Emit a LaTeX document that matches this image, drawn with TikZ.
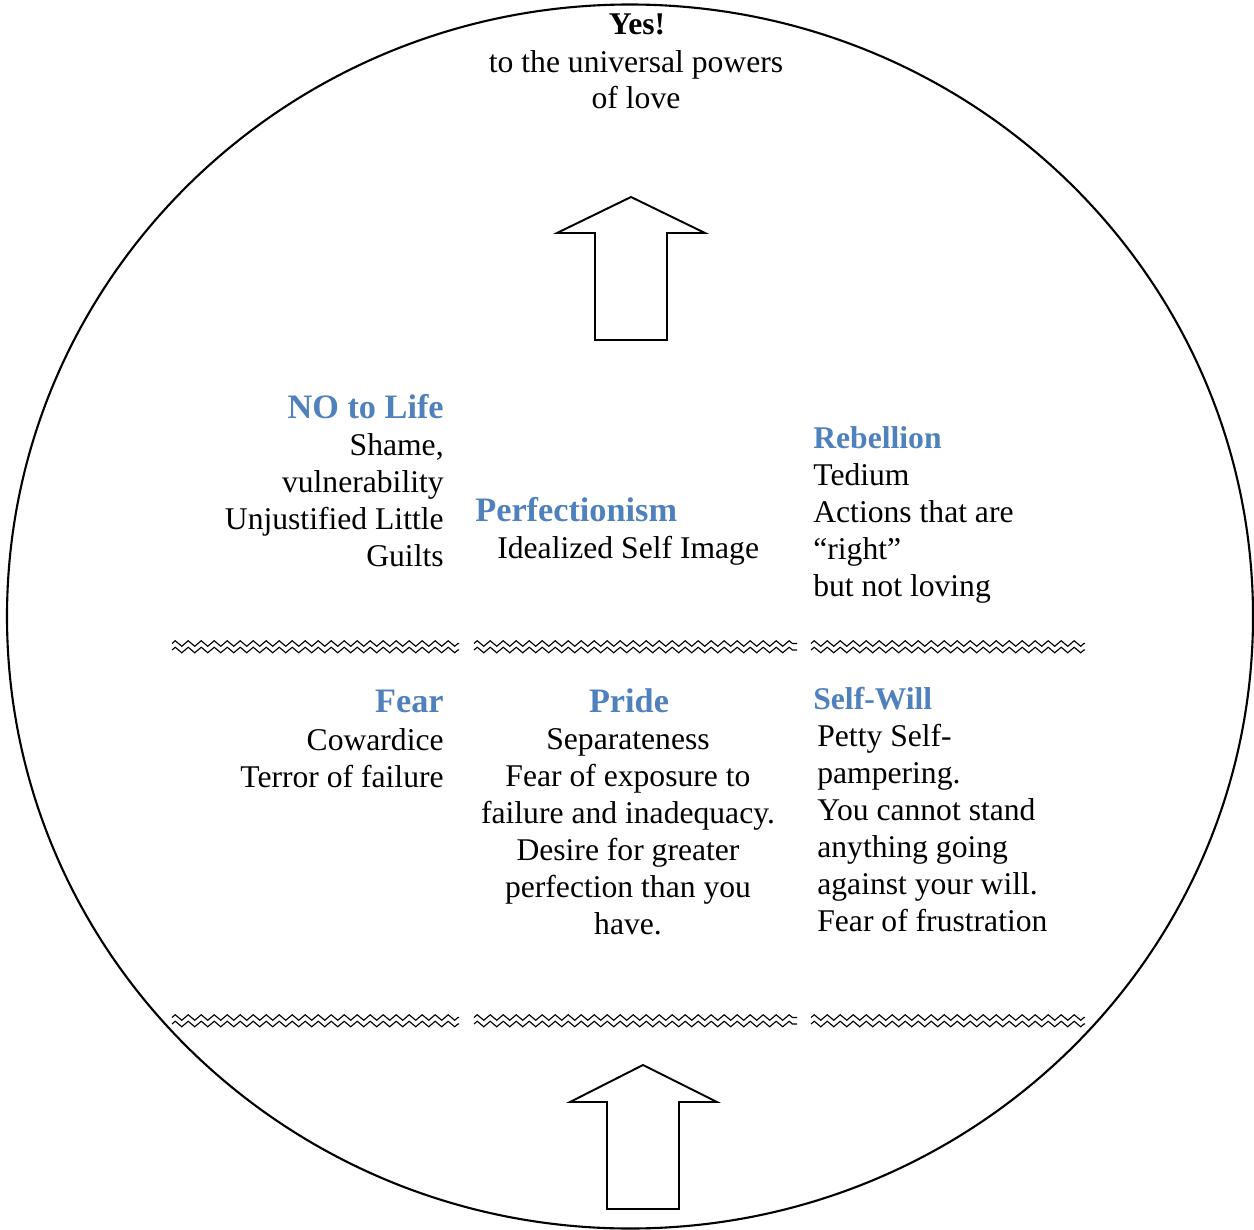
\documentclass[tikz,border=0pt]{standalone}
\usepackage{fontspec}
\setmainfont{Liberation Serif}
\usetikzlibrary{decorations.pathmorphing}
\definecolor{headblue}{HTML}{4F81BD}
\tikzset{
  body/.style={inner sep=0pt, font=\fontsize{18}{21}\selectfont},
  head/.style={inner sep=0pt, text=headblue, font=\fontsize{19.5}{21}\selectfont\bfseries},
  smallhead/.style={head, font=\fontsize{18}{21}\selectfont\bfseries},
  bigarrow/.style={draw=black, line width=1.1pt, line join=miter, fill=white},
  wave/.style={draw=black, line width=0.65pt, decorate,
    decoration={zigzag, segment length=0.26cm, amplitude=0.055cm}}
}
\begin{document}
\begin{tikzpicture}[x=0.02cm, y=-0.02cm]
\useasboundingbox (0,0) rectangle (1254,1230);
% outer circle
\draw[line width=1.2pt] (630,616.5) ellipse [x radius=623, y radius=612];

% top text (base anchor of a multi-line node = last line's baseline)
\node[body, anchor=base, font=\fontsize{18}{21}\selectfont\bfseries] (yes) at (637,35) {Yes!};
\node[body, anchor=base, align=center] (love) at (636,109) {to the universal powers\\of love};

% arrows
\draw[bigarrow] (631,197) -- (705,233) -- (667,233) -- (667,340) -- (595,340) -- (595,233) -- (557,233) -- cycle;
\draw[bigarrow] (643,1065) -- (717,1102) -- (679,1102) -- (679,1209) -- (607,1209) -- (607,1102) -- (570,1102) -- cycle;

% wavy separators
\foreach \yy in {643.5,650,1017.5,1024}{
  \draw[wave] (172,\yy) -- (459,\yy);
  \draw[wave] (474,\yy) -- (797,\yy);
  \draw[wave] (811,\yy) -- (1085,\yy);
}

% upper row
\node[head, anchor=base east] (nolife) at (444,418) {NO to Life};
\node[body, anchor=base east, align=right] (nolifeb) at (444,566) {Shame,\\vulnerability\\Unjustified Little\\Guilts};

\node[head, anchor=base west] (perf) at (475,521) {Perfectionism};
\node[body, anchor=base west] (perfb) at (497,558) {Idealized Self Image};

\node[smallhead, anchor=base west] (rebel) at (813,448) {Rebellion};
\node[body, anchor=base west, align=left] (rebelb) at (813,596) {Tedium\\Actions that are\\“right”\\but not loving};

% lower row
\node[head, anchor=base east] (fear) at (444,712) {Fear};
\node[body, anchor=base east, align=right] (fearb) at (444,787) {Cowardice\\Terror of failure};

\node[head, anchor=base] (pride) at (629,712) {Pride};
\node[body, anchor=base, align=center] (prideb) at (628,934) {Separateness\\Fear of exposure to\\failure and inadequacy.\\Desire for greater\\perfection than you\\have.};

\node[smallhead, anchor=base west] (will) at (813,709) {Self-Will};
\node[body, anchor=base west, align=left] (willb) at (817,931) {Petty Self-\\pampering.\\You cannot stand\\anything going\\against your will.\\Fear of frustration};
\end{tikzpicture}
\end{document}
